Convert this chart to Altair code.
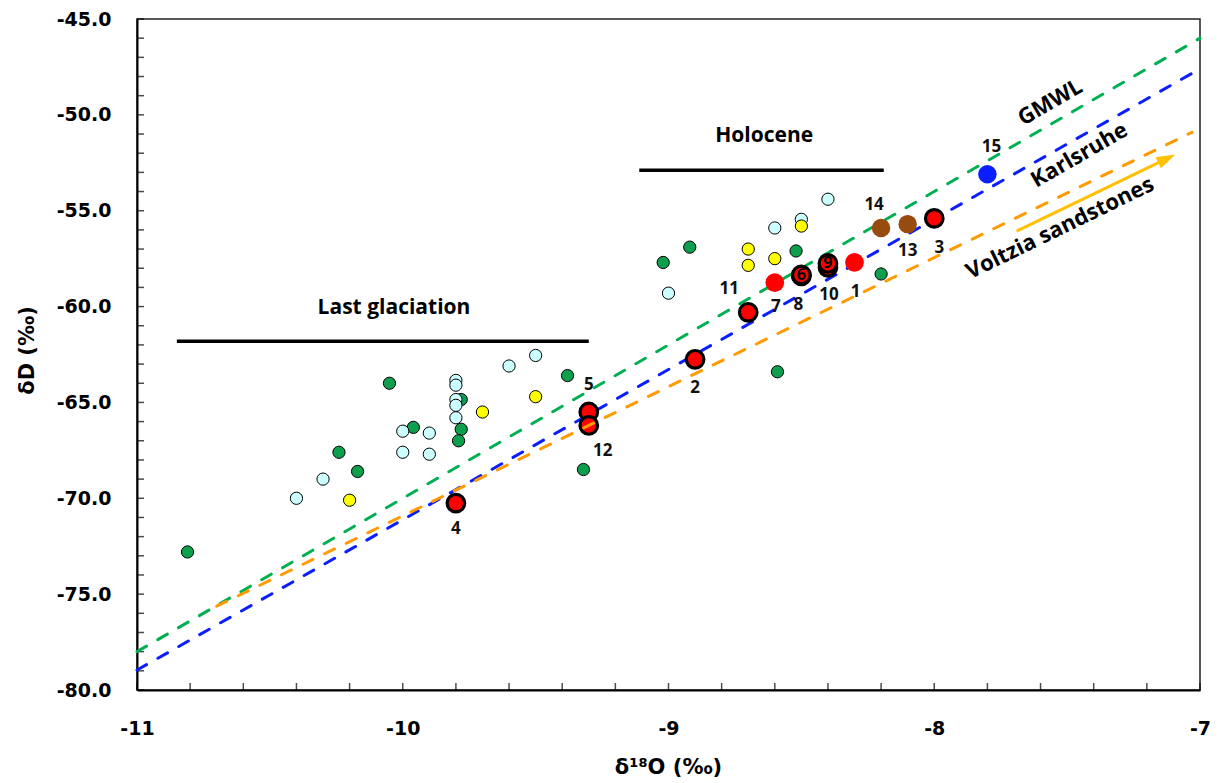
import altair as alt
import pandas as pd

# ---------------- data ----------------
green_x = [-10.81, -10.05, -9.38, -9.78, -9.78, -9.79, -9.96, -10.24, -10.17, -9.32, -8.92, -9.02, -8.52, -8.20, -8.59]
green_y = [-72.8, -64.0, -63.6, -64.85, -66.4, -67.0, -66.3, -67.6, -68.6, -68.5, -56.9, -57.7, -57.1, -58.3, -63.4]

cyan_x = [-9.50, -9.60, -9.80, -9.80, -9.80, -9.80, -9.80, -10.00, -9.90, -10.00, -9.90, -10.30, -10.40, -8.40, -8.50, -8.60, -9.00]
cyan_y = [-62.55, -63.1, -63.85, -64.1, -64.85, -65.15, -65.8, -66.5, -66.6, -67.6, -67.7, -69.0, -70.0, -54.4, -55.45, -55.9, -59.3]

yellow_x = [-9.50, -9.70, -10.20, -8.50, -8.70, -8.70, -8.60]
yellow_y = [-64.7, -65.5, -70.1, -55.8, -57.0, -57.85, -57.5]

# red samples with black outline (numbered)
red_id = ["2", "3", "4", "5", "12", "11", "10", "9", "8", "6"]
red_x = [-8.90, -8.00, -9.80, -9.30, -9.30, -8.70, -8.40, -8.40, -8.50, -8.50]
red_y = [-62.75, -55.4, -70.25, -65.5, -66.2, -60.3, -57.95, -57.75, -58.4, -58.35]

# red samples without outline
redp_id = ["1", "7"]
redp_x = [-8.30, -8.60]
redp_y = [-57.7, -58.75]

brown_id = ["14", "13"]
brown_x = [-8.20, -8.10]
brown_y = [-55.9, -55.7]

blue_id = ["15"]
blue_x = [-7.80]
blue_y = [-53.1]

# meteoric water lines (end points)
gmwl_x = [-11.0, -7.0]
gmwl_y = [-78.0, -46.0]
karls_x = [-11.0, -7.0]
karls_y = [-78.96, -47.6]
voltz_x = [-10.70, -7.03]
voltz_y = [-75.63, -50.91]

# period bars
glac_x = [-10.85, -9.30]
glac_y = [-61.81, -61.81]
holo_x = [-9.11, -8.19]
holo_y = [-52.89, -52.89]

# arrow
arrow_x = [-7.69, -7.125]
arrow_y = [-56.07, -52.28]

# annotation texts
ann_text = ["Holocene", "Last glaciation"]
ann_x = [-8.64, -10.033]
ann_y = [-51.08, -60.07]

line_text = ["GMWL", "Karlsruhe", "Voltzia sandstones"]
line_tx = [-7.564, -7.454, -7.527]
line_ty = [-49.35, -52.1, -55.90]
line_angle = [330, 330, 334]

x_ticks_major = [-11, -10, -9, -8, -7]
x_ticks_minor = [round(-11 + 0.2 * i, 1) for i in range(21)]
y_ticks_minor = [float(v) for v in range(-80, -44)]

W, H = 1063, 671
XS = alt.Scale(domain=[-11, -7], nice=False, zero=False)
YS = alt.Scale(domain=[-80, -45], nice=False, zero=False)

hyphen = "replace(datum.label, '\u2212', '-')"

xaxis = alt.Axis(values=x_ticks_major, format="d", grid=False, ticks=False, tickSize=0,
                 domainColor="black", domainWidth=2, labelExpr=hyphen,
                 labelFont="DejaVu Sans", labelFontWeight="bold", labelFontSize=19,
                 labelColor="black", labelPadding=29, labelFlush=False,
                 title="δ¹⁸O (‰)", titleFont="DejaVu Sans", titleFontWeight="bold",
                 titleFontSize=21, titleColor="black", titleX=531, titleY=77,
                 titleAlign="center", titleBaseline="middle")
yaxis = alt.Axis(values=[-80, -75, -70, -65, -60, -55, -50, -45], format=".1f", grid=False,
                 ticks=False, tickSize=0, domainColor="black", domainWidth=2, labelExpr=hyphen,
                 labelFont="DejaVu Sans", labelFontWeight="bold", labelFontSize=19,
                 labelColor="black", labelPadding=26, labelFlush=False,
                 title="δD (‰)", titleFont="DejaVu Sans", titleFontWeight="bold",
                 titleFontSize=21, titleColor="black", titleAngle=270, titleX=-110, titleY=331,
                 titleAlign="center", titleBaseline="middle")


def xe(field="x"):
    return alt.X(f"{field}:Q", scale=XS, axis=xaxis)


def ye(field="y"):
    return alt.Y(f"{field}:Q", scale=YS, axis=yaxis)


def df(xs, ys, **extra):
    d = pd.DataFrame({"x": xs, "y": ys})
    for k, v in extra.items():
        d[k] = v
    return d


layers = []

# inside tick marks
layers.append(alt.Chart(pd.DataFrame({"x": x_ticks_minor})).mark_tick(
    orient="vertical", color="black", thickness=1.5, size=7).encode(x=xe(), y=alt.value(H - 3.5)))
layers.append(alt.Chart(pd.DataFrame({"y": y_ticks_minor})).mark_tick(
    orient="horizontal", color="black", thickness=1.5, size=7).encode(y=ye(), x=alt.value(3.5)))

# water lines (behind points)
dash = dict(strokeDash=[11, 13], strokeWidth=3, strokeCap="round")
layers.append(alt.Chart(df(gmwl_x, gmwl_y)).mark_line(color="#00B050", **dash).encode(x=xe(), y=ye()))
layers.append(alt.Chart(df(karls_x, karls_y)).mark_line(color="#0A1EFF", **dash).encode(x=xe(), y=ye()))

# period bars
for bx, by in [(glac_x, glac_y), (holo_x, holo_y)]:
    layers.append(alt.Chart(df(bx, by)).mark_line(color="black", strokeWidth=3.5).encode(x=xe(), y=ye()))

# sample points
layers.append(alt.Chart(df(green_x, green_y)).mark_point(
    filled=True, shape="circle", size=150, fill="#0E9F4E", stroke="black", strokeWidth=1, opacity=1
).encode(x=xe(), y=ye()))
layers.append(alt.Chart(df(cyan_x, cyan_y)).mark_point(
    filled=True, shape="circle", size=150, fill="#CCFFFF", stroke="black", strokeWidth=1, opacity=1
).encode(x=xe(), y=ye()))
layers.append(alt.Chart(df(yellow_x, yellow_y)).mark_point(
    filled=True, shape="circle", size=150, fill="#FFFF00", stroke="black", strokeWidth=1, opacity=1
).encode(x=xe(), y=ye()))
layers.append(alt.Chart(df(redp_x, redp_y, id=redp_id)).mark_point(
    filled=True, shape="circle", size=350, fill="#FF0000", strokeWidth=0, opacity=1
).encode(x=xe(), y=ye()))
layers.append(alt.Chart(df(brown_x, brown_y, id=brown_id)).mark_point(
    filled=True, shape="circle", size=340, fill="#974B0F", strokeWidth=0, opacity=1
).encode(x=xe(), y=ye()))
layers.append(alt.Chart(df(blue_x, blue_y, id=blue_id)).mark_point(
    filled=True, shape="circle", size=340, fill="#0A1EFF", strokeWidth=0, opacity=1
).encode(x=xe(), y=ye()))
layers.append(alt.Chart(df(red_x, red_y, id=red_id)).mark_point(
    filled=True, shape="circle", size=310, fill="#FF0000", stroke="black", strokeWidth=3.2, opacity=1
).encode(x=xe(), y=ye()))

# Voltzia line drawn over points
layers.append(alt.Chart(df(voltz_x, voltz_y)).mark_line(color="#FF9A00", **dash).encode(x=xe(), y=ye()))

# arrow
layers.append(alt.Chart(df(arrow_x, arrow_y)).mark_line(color="#FFC000", strokeWidth=3).encode(x=xe(), y=ye()))
layers.append(alt.Chart(df(arrow_x[1:], arrow_y[1:])).mark_point(
    filled=True, shape="M -1 -0.65 L 1 0 L -1 0.65 Z", size=360, fill="#FFC000", strokeWidth=0,
    opacity=1, angle=334).encode(x=xe(), y=ye()))

# number labels (offsets in pixels)
all_ids = red_id + redp_id + brown_id + blue_id
all_x = red_x + redp_x + brown_x + blue_x
all_y = red_y + redp_y + brown_y + blue_y
offsets = {"5": (0, -27), "12": (14, 26), "4": (0, 26), "2": (0, 29), "11": (-19, -23),
           "7": (1, 24), "8": (-3, 29), "10": (1, 28), "1": (1, 30), "14": (-7, -23),
           "13": (0, 27), "3": (5, 30), "15": (4, -27), "6": (0, 0), "9": (0, 0)}
for i, lab in enumerate(all_ids):
    dx, dy = offsets[lab]
    inside = lab in ("6", "9")
    layers.append(alt.Chart(df([all_x[i]], [all_y[i]], t=[lab])).mark_text(
        dx=dx, dy=dy, font="Open Sans", fontWeight="bold", fontSize=16 if inside else 17,
        color="#000000" if inside else "#111111", align="center", baseline="middle"
    ).encode(x=xe(), y=ye(), text="t:N"))

# annotations
layers.append(alt.Chart(df(ann_x, ann_y, t=ann_text)).mark_text(
    font="Open Sans", fontWeight="bold", fontSize=21, color="black", align="center", baseline="middle"
).encode(x=xe(), y=ye(), text="t:N"))
for i, t in enumerate(line_text):
    layers.append(alt.Chart(df([line_tx[i]], [line_ty[i]], t=[t])).mark_text(
        font="Open Sans", fontWeight="bold", fontSize=22, color="black", align="center",
        baseline="middle", angle=line_angle[i]
    ).encode(x=xe(), y=ye(), text="t:N"))

chart = alt.layer(*layers).properties(
    width=W, height=H,
    autosize=alt.AutoSizeParams(type="none"),
    padding={"left": 129, "top": 11, "right": 12, "bottom": 90},
    background="white",
).configure_view(stroke="#222222", strokeWidth=1.5)

chart.save("out.html", embed_options={"renderer": "svg", "actions": False})
